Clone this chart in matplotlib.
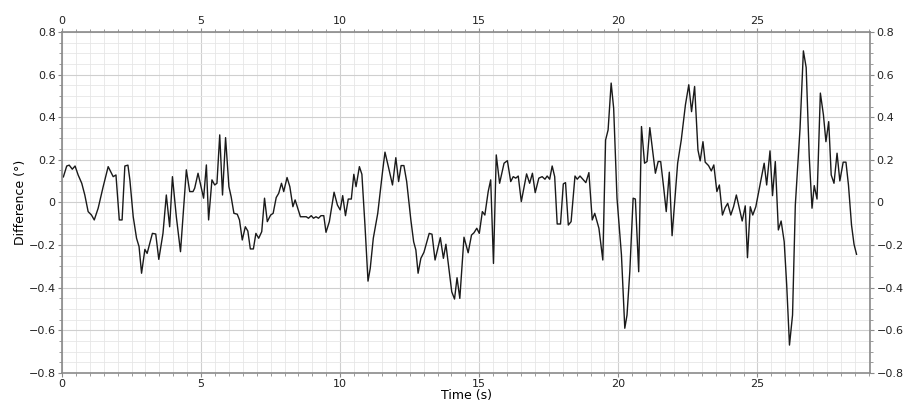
import matplotlib.pyplot as plt
from matplotlib.ticker import MultipleLocator
import numpy as np

# time (s) and difference (deg)
t = [0.05, 0.17, 0.26, 0.37, 0.47, 0.58, 0.71, 0.82, 0.94, 1.06, 1.16, 1.30, 1.48, 1.66,
     1.84, 1.94, 2.06, 2.16, 2.26, 2.37, 2.44, 2.56, 2.68, 2.77, 2.86, 2.98, 3.06, 3.25,
     3.37, 3.48, 3.63, 3.75, 3.87, 3.97, 4.11, 4.26, 4.47, 4.59, 4.71, 4.77, 4.89, 5.09,
     5.19, 5.27, 5.39, 5.49, 5.57, 5.67, 5.77, 5.88, 6.00, 6.08, 6.18, 6.30, 6.38, 6.48,
     6.59, 6.68, 6.77, 6.88, 6.97, 7.07, 7.18, 7.28, 7.38, 7.50, 7.59, 7.70, 7.79, 7.89,
     7.97, 8.09, 8.19, 8.30, 8.38, 8.57, 8.66, 8.78, 8.86, 8.96, 9.04, 9.13, 9.22, 9.31,
     9.41, 9.49, 9.61, 9.78, 9.90, 10.00, 10.09, 10.19, 10.29, 10.40, 10.49, 10.57, 10.69,
     10.78, 10.89, 11.00, 11.08, 11.19, 11.35, 11.53, 11.61, 11.74, 11.88, 12.00, 12.10,
     12.19, 12.29, 12.39, 12.54, 12.64, 12.72, 12.80, 12.90, 13.01, 13.20, 13.30, 13.41,
     13.60, 13.71, 13.80, 13.92, 14.01, 14.11, 14.20, 14.30, 14.45, 14.60, 14.72, 14.81,
     14.91, 15.00, 15.11, 15.20, 15.32, 15.41, 15.51, 15.61, 15.73, 15.89, 16.01, 16.13,
     16.22, 16.31, 16.40, 16.51, 16.70, 16.81, 16.91, 17.01, 17.14, 17.26, 17.36, 17.44,
     17.53, 17.62, 17.71, 17.80, 17.92, 18.02, 18.10, 18.20, 18.30, 18.44, 18.52, 18.62,
     18.72, 18.83, 18.94, 19.06, 19.15, 19.30, 19.44, 19.54, 19.63, 19.74, 19.83, 19.95,
     20.11, 20.23, 20.31, 20.41, 20.53, 20.61, 20.73, 20.83, 20.94, 21.03, 21.13, 21.33,
     21.43, 21.52, 21.63, 21.72, 21.83, 21.93, 22.13, 22.26, 22.41, 22.53, 22.63, 22.74,
     22.86, 22.94, 23.04, 23.12, 23.24, 23.34, 23.43, 23.54, 23.63, 23.74, 23.84, 23.93,
     24.04, 24.14, 24.24, 24.45, 24.56, 24.64, 24.74, 24.83, 24.94, 25.10, 25.24, 25.33,
     25.45, 25.54, 25.64, 25.75, 25.85, 25.96, 26.05, 26.15, 26.26, 26.36, 26.53, 26.65,
     26.75, 26.86, 26.96, 27.04, 27.14, 27.26, 27.37, 27.46, 27.56, 27.65, 27.75, 27.86,
     27.96, 28.08, 28.18, 28.27, 28.38, 28.47, 28.56]
diff = [0.12, 0.171, 0.175, 0.156, 0.171, 0.129, 0.09, 0.035, -0.043, -0.059, -0.082, -0.027,
        0.074, 0.168, 0.121, 0.129, -0.082, -0.082, 0.171, 0.175, 0.106, -0.067, -0.168,
        -0.207, -0.332, -0.22, -0.239, -0.145, -0.148, -0.267, -0.145, 0.035, -0.114, 0.121,
        -0.067, -0.231, 0.153, 0.051, 0.051, 0.067, 0.137, 0.02, 0.176, -0.082, 0.106, 0.082,
        0.09, 0.317, 0.035, 0.304, 0.074, 0.027, -0.051, -0.055, -0.082, -0.176, -0.114,
        -0.134, -0.218, -0.218, -0.145, -0.168, -0.137, 0.02, -0.09, -0.059, -0.051, 0.023,
        0.043, 0.09, 0.051, 0.117, 0.074, -0.02, 0.012, -0.067, -0.067, -0.067, -0.074,
        -0.062, -0.074, -0.067, -0.074, -0.062, -0.062, -0.14, -0.09, 0.048, -0.012, -0.035,
        0.032, -0.062, 0.016, 0.016, 0.132, 0.074, 0.168, 0.132, -0.106, -0.369, -0.309,
        -0.168, -0.051, 0.153, 0.236, 0.163, 0.082, 0.21, 0.098, 0.173, 0.173, 0.098, -0.082,
        -0.184, -0.223, -0.332, -0.262, -0.234, -0.145, -0.149, -0.27, -0.165, -0.262, -0.196,
        -0.325, -0.419, -0.453, -0.353, -0.45, -0.163, -0.236, -0.153, -0.142, -0.121, -0.145,
        -0.043, -0.059, 0.051, 0.106, -0.286, 0.223, 0.09, 0.184, 0.196, 0.098, 0.121, 0.114,
        0.124, 0.004, 0.134, 0.09, 0.137, 0.046, 0.114, 0.121, 0.109, 0.124, 0.109, 0.171,
        0.121, -0.101, -0.101, 0.087, 0.093, -0.106, -0.09, 0.124, 0.109, 0.124, 0.109, 0.093,
        0.14, -0.082, -0.051, -0.121, -0.27, 0.293, 0.34, 0.56, 0.442, 0.02, -0.246, -0.59,
        -0.528, -0.325, 0.02, 0.016, -0.325, 0.356, 0.184, 0.192, 0.351, 0.137, 0.192, 0.192,
        0.067, -0.043, 0.142, -0.156, 0.184, 0.293, 0.458, 0.552, 0.426, 0.544, 0.246, 0.195,
        0.285, 0.189, 0.173, 0.148, 0.176, 0.051, 0.082, -0.059, -0.024, -0.004, -0.059,
        -0.02, 0.035, -0.087, -0.016, -0.259, -0.02, -0.059, -0.02, 0.09, 0.184, 0.082, 0.242,
        0.032, 0.192, -0.129, -0.087, -0.184, -0.387, -0.669, -0.528, -0.012, 0.348, 0.711,
        0.633, 0.215, -0.027, 0.079, 0.016, 0.513, 0.411, 0.285, 0.379, 0.129, 0.09, 0.231,
        0.101, 0.189, 0.189, 0.082, -0.106, -0.196, -0.243]

fig = plt.figure(figsize=(9.05, 4.09), dpi=100)
ax = fig.add_axes([0.0685, 0.088, 0.893, 0.834])

ax.plot(t, diff, color='#1a1a1a', lw=1.0)

ax.set_xlim(0, 29.05)
ax.set_ylim(-0.8, 0.8)
ax.xaxis.set_major_locator(MultipleLocator(5))
ax.xaxis.set_minor_locator(MultipleLocator(0.5))
ax.yaxis.set_major_locator(MultipleLocator(0.2))
ax.yaxis.set_minor_locator(MultipleLocator(0.05))

ax.grid(which='major', color='#cfcfcf', lw=0.8)
ax.grid(which='minor', color='#e6e6e6', lw=0.6)
ax.set_axisbelow(True)

for s in ax.spines.values():
    s.set_color('#8a8a8a')
    s.set_linewidth(1.2)

ax.tick_params(which='both', direction='out', colors='#8a8a8a', labelcolor='#222222',
               top=True, right=True, labeltop=True, labelright=True, labelsize=8, pad=1.5)
ax.tick_params(which='major', length=3)
ax.tick_params(which='minor', length=2)

def fmt(v, pos):
    if abs(v) < 1e-9:
        return '0'
    return ('%g' % v).replace('-', '\u2212')

ax.yaxis.set_major_formatter(plt.FuncFormatter(fmt))
ax.xaxis.set_major_formatter(plt.FuncFormatter(fmt))

ax.set_xlabel('Time (s)', fontsize=9, labelpad=0)
ax.set_ylabel('Difference (°)', fontsize=9, labelpad=1)

plt.savefig('out.png', dpi=100)
